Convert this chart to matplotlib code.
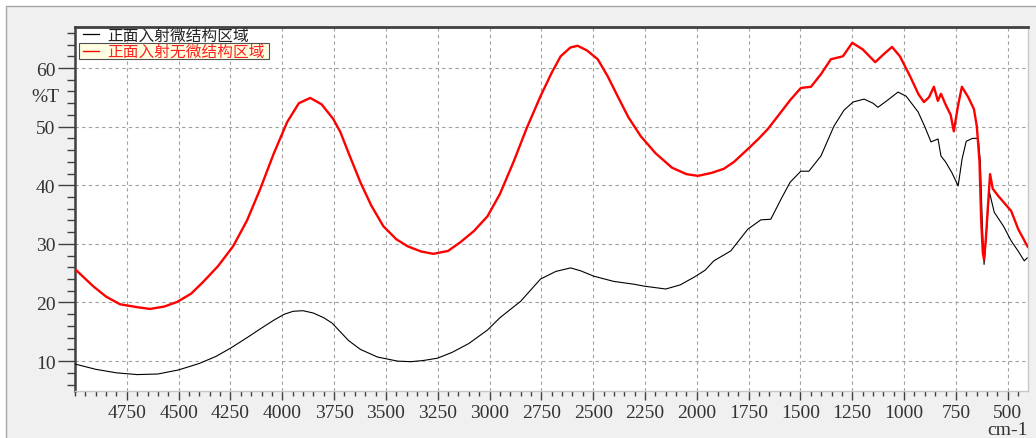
import matplotlib
matplotlib.use("Agg")
import matplotlib.pyplot as plt
from matplotlib.ticker import MultipleLocator, FixedLocator
from matplotlib.patches import Rectangle
from matplotlib.lines import Line2D

# ---------------- data ----------------
series_names = ["正面入射微结构区域", "正面入射无微结构区域"]

black_wn = [5000, 4900, 4800, 4700, 4600, 4500, 4400, 4320, 4250, 4170, 4106, 4040,
            3990, 3947, 3900, 3850, 3800, 3760, 3720, 3680, 3623, 3541, 3444, 3380,
            3320, 3251, 3180, 3100, 3010, 2950, 2850, 2754, 2680, 2609, 2560, 2498,
            2401, 2300, 2256, 2150, 2080, 2014, 1960, 1918, 1836, 1754, 1691, 1643,
            1594, 1550, 1498, 1459, 1401, 1338, 1290, 1246, 1193, 1150, 1126, 1080,
            1029, 990, 932, 900, 870, 836, 822, 800, 770, 739, 720, 700, 670, 642,
            632, 622, 614, 604, 589, 565, 520, 483, 450, 420, 406]
black_t = [9.5, 8.6, 8.0, 7.7, 7.8, 8.5, 9.6, 10.8, 12.2, 14.0, 15.5, 17.0,
           18.0, 18.5, 18.6, 18.2, 17.4, 16.5, 15.0, 13.5, 12.0, 10.7, 10.0, 9.9,
           10.1, 10.5, 11.5, 13.0, 15.3, 17.4, 20.2, 24.0, 25.3, 25.9, 25.4, 24.5,
           23.6, 23.1, 22.8, 22.3, 23.0, 24.3, 25.5, 27.1, 28.8, 32.5, 34.1, 34.2,
           37.6, 40.5, 42.4, 42.4, 45.0, 50.1, 52.8, 54.2, 54.7, 54.0, 53.3, 54.5,
           55.9, 55.2, 52.5, 50.0, 47.4, 47.9, 45.0, 44.0, 42.2, 39.9, 44.5, 47.5, 48.0, 48.0,
           44.0, 33.0, 26.5, 31.0, 39.0, 35.4, 33.0, 30.5, 28.8, 27.1, 27.6]

red_wn = [5000, 4913, 4850, 4783, 4700, 4638, 4570, 4507, 4440, 4382, 4310, 4237,
          4170, 4106, 4040, 3976, 3920, 3865, 3810, 3754, 3720, 3680, 3623, 3570,
          3512, 3450, 3396, 3330, 3271, 3200, 3140, 3075, 3010, 2950, 2884, 2820,
          2754, 2700, 2657, 2610, 2575, 2530, 2478, 2430, 2382, 2330, 2271, 2200,
          2120, 2050, 1995, 1930, 1870, 1820, 1750, 1700, 1657, 1600, 1550, 1498,
          1449, 1400, 1353, 1295, 1250, 1200, 1139, 1100, 1058, 1020, 971, 930,
          904, 880, 856, 837, 822, 800, 775, 760, 740, 721, 690, 663, 649,
          636, 628, 620, 614, 605, 598, 585, 572, 546, 483, 449, 411, 403]
red_t = [25.7, 22.8, 21.0, 19.7, 19.2, 18.9, 19.3, 20.1, 21.5, 23.5, 26.2, 29.6,
         34.0, 39.4, 45.5, 50.8, 54.0, 54.9, 53.8, 51.3, 49.1, 45.5, 40.5, 36.5,
         33.0, 30.8, 29.6, 28.7, 28.3, 28.8, 30.3, 32.2, 34.7, 38.5, 44.0, 49.8,
         55.2, 59.2, 62.0, 63.5, 63.8, 63.0, 61.5, 58.6, 55.2, 51.6, 48.4, 45.5,
         43.0, 41.9, 41.6, 42.1, 42.8, 44.0, 46.3, 48.0, 49.6, 52.2, 54.5, 56.6,
         56.8, 59.0, 61.5, 62.0, 64.3, 63.2, 61.0, 62.3, 63.6, 62.0, 58.6, 55.5,
         54.2, 55.0, 56.8, 54.4, 55.6, 53.8, 52.0, 49.2, 53.5, 56.8, 55.0, 53.0, 50.1,
         44.0, 34.0, 28.5, 27.3, 31.0, 35.0, 41.9, 39.4, 38.2, 35.6, 32.5, 30.0, 29.5]

x_major = [4750, 4500, 4250, 4000, 3750, 3500, 3250, 3000, 2750, 2500, 2250,
           2000, 1750, 1500, 1250, 1000, 750, 500]
y_major = [10, 20, 30, 40, 50, 60]

# ---------------- figure ----------------
W, H = 1036, 439
fig = plt.figure(figsize=(W / 100, H / 100), dpi=100, facecolor="white")

# grey panel with border
fig.patches.append(Rectangle((6 / W, -0.05), 1.1, 1 - 7 / H + 0.05,
                             transform=fig.transFigure, facecolor="#f0f0f0",
                             edgecolor="#a8a8a8", linewidth=1.0, zorder=0))

ax = fig.add_axes([75 / W, 1 - 392 / H, (1028 - 75) / W, (392 - 28) / H])
ax.set_facecolor("white")
ax.set_zorder(1)

ax.plot(black_wn, black_t, color="black", lw=0.8, zorder=3)
ax.plot(red_wn, red_t, color="#ff0000", lw=1.7, zorder=4)

ax.set_xlim(5000, 402)
ax.set_ylim(4.9, 67)

ax.xaxis.set_major_locator(FixedLocator(x_major))
ax.xaxis.set_minor_locator(MultipleLocator(50))
ax.yaxis.set_major_locator(FixedLocator(y_major))
ax.yaxis.set_minor_locator(MultipleLocator(2))

ax.grid(True, which="major", color="#a0a0a0", linestyle=(0, (3, 3)), linewidth=0.8)

serif = ["Liberation Serif", "DejaVu Serif"]
ax.tick_params(axis="y", which="major", direction="out", length=12, width=1.0,
               color="#404040", pad=2, labelsize=14, labelcolor="#333333")
ax.tick_params(axis="y", which="minor", direction="out", length=6, width=1.0,
               color="#404040")
ax.tick_params(axis="x", which="major", direction="out", length=6.5, width=1.0,
               color="#404040", pad=3, labelsize=14, labelcolor="#333333")
ax.tick_params(axis="x", which="minor", direction="out", length=3.5, width=1.0,
               color="#404040")
for lab in ax.get_xticklabels() + ax.get_yticklabels():
    lab.set_family(serif)

ax.spines["top"].set_color("#404040")
ax.spines["top"].set_linewidth(2.0)
ax.spines["left"].set_color("#404040")
ax.spines["left"].set_linewidth(1.8)
ax.spines["right"].set_color("#c8c8c8")
ax.spines["right"].set_linewidth(1.0)
ax.spines["bottom"].set_color("#c8c8c8")
ax.spines["bottom"].set_linewidth(1.0)

# axis labels placed like the original
fig.text(45 / W, 1 - 97 / H, "%T", family=serif, fontsize=14, color="#333333",
         ha="center", va="center")
fig.text(1007 / W, 1 - 431 / H, "cm-1", family=serif, fontsize=14, color="#333333",
         ha="center", va="center")

# legend-like labels
cjk = ["Noto Sans CJK SC", "DejaVu Sans"]
fig.add_artist(Line2D([83 / W, 99 / W], [1 - 34.5 / H, 1 - 34.5 / H], color="black",
                      lw=0.9, transform=fig.transFigure, zorder=10))
fig.text(107 / W, 1 - 36 / H, series_names[0], family=cjk, fontsize=11.3,
         color="#222222", ha="left", va="center", zorder=10)

fig.patches.append(Rectangle((79 / W, 1 - 60 / H), (269 - 79) / W, 16 / H,
                             transform=fig.transFigure, facecolor="#ffffe1",
                             edgecolor="#505050", linewidth=0.8, zorder=9))
fig.add_artist(Line2D([83 / W, 99 / W], [1 - 51.5 / H, 1 - 51.5 / H], color="#ff0000",
                      lw=1.0, transform=fig.transFigure, zorder=10))
fig.text(107 / W, 1 - 52.5 / H, series_names[1], family=cjk, fontsize=11.3,
         color="#ff2020", ha="left", va="center", zorder=10)

fig.savefig("out.png", dpi=100, facecolor=fig.get_facecolor())
